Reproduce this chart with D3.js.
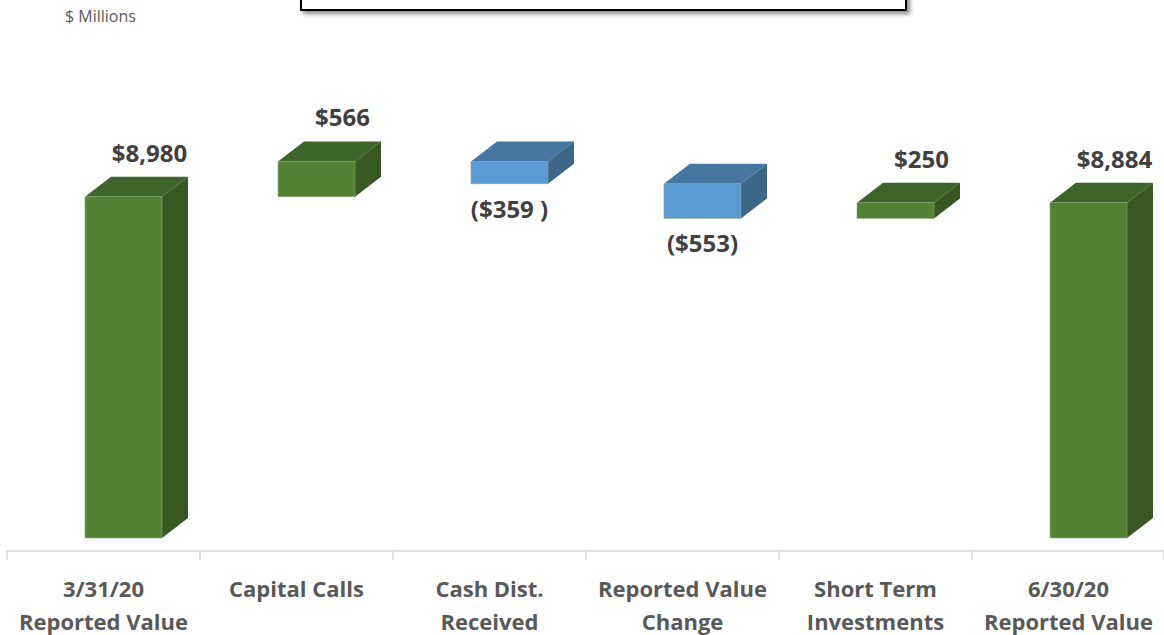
<!DOCTYPE html>
<html>
<head>
<meta charset="utf-8">
<script src="https://cdn.jsdelivr.net/npm/d3@7"></script>
<style>
  body { margin: 0; background: #fff; }
  svg { display: block; font-family: "Open Sans", sans-serif; }
</style>
</head>
<body>
<svg width="1164" height="635"></svg>
<script>
"use strict";

// waterfall data, $ millions
const categories = ["3/31/20|Reported Value", "Capital Calls", "Cash Dist.|Received",
  "Reported Value|Change", "Short Term|Investments", "6/30/20|Reported Value"];
const kinds = ["total", "delta", "delta", "delta", "delta", "total"];
const values = [8980, 566, -359, -553, 250, 8884];
const labels = ["$8,980", "$566", "($359 )", "($553)", "$250", "$8,884"];

window.addEventListener("load", drawChart);

function drawChart() {
  const svg = d3.select("svg");
  const base = 538;
  const depthX = 26, depthY = 20;
  const barW = 77;

  const x = d3.scaleBand().domain(categories).range([7, 1165]).padding(0);
  // axis does not start at zero in the original
  const y = d3.scaleLinear().domain([3520, 9600]).range([base, 158]);

  // running totals
  let run = 0;
  const bars = categories.map((c, i) => {
    let lo, hi;
    if (kinds[i] === "total") {
      lo = y.domain()[0]; hi = values[i]; run = values[i];
    } else {
      const next = run + values[i];
      lo = Math.min(run, next); hi = Math.max(run, next);
      run = next;
    }
    return { c, lo, hi, v: values[i], label: labels[i], kind: kinds[i] };
  });

  const colors = {
    pos: { front: "#548235", top: "#3f6429", side: "#385723" },
    neg: { front: "#5b9bd5", top: "#4676a2", side: "#3d6689" }
  };

  // title box, cut off at the top
  const defs = svg.append("defs");
  const f = defs.append("filter").attr("id", "shadow").attr("x", "-5%").attr("y", "-50%")
    .attr("width", "110%").attr("height", "200%");
  f.append("feDropShadow").attr("dx", 3).attr("dy", 3).attr("stdDeviation", 2)
    .attr("flood-color", "#000").attr("flood-opacity", 0.45);
  svg.append("rect")
    .attr("x", 301).attr("y", -40).attr("width", 605).attr("height", 50)
    .attr("fill", "#fff").attr("stroke", "#000").attr("stroke-width", 2)
    .attr("filter", "url(#shadow)");

  svg.append("text")
    .attr("x", 65).attr("y", 22)
    .style("font-size", "16px").style("fill", "#595959")
    .text("$ Millions");

  const g = svg.selectAll(".bar").data(bars).enter().append("g").attr("class", "bar");

  g.each(function (d) {
    const sel = d3.select(this);
    const col = d.kind === "delta" && d.v < 0 ? colors.neg : colors.pos;
    const x0 = x(d.c) + 78, x1 = x0 + barW;
    const yt = y(d.hi), yb = y(d.lo);
    sel.append("polygon")
      .attr("points", [[x0, yt], [x0 + depthX, yt - depthY], [x1 + depthX, yt - depthY], [x1, yt]].join(" "))
      .attr("fill", col.top);
    sel.append("polygon")
      .attr("points", [[x1, yt], [x1 + depthX, yt - depthY], [x1 + depthX, yb - depthY], [x1, yb]].join(" "))
      .attr("fill", col.side);
    sel.append("rect")
      .attr("x", x0).attr("y", yt).attr("width", barW).attr("height", yb - yt)
      .attr("fill", col.front).attr("stroke", "#8aa87a").attr("stroke-width", 0.6);

    const neg = d.v < 0;
    sel.append("text")
      .attr("x", neg ? x0 + barW / 2 : x0 + barW / 2 + depthX)
      .attr("y", neg ? yb + 34 : yt - depthY - 15)
      .attr("text-anchor", "middle")
      .style("font-size", "24px").style("font-weight", "bold").style("fill", "#404040")
      .text(d.label);
  });

  // category axis
  const axisY = 551;
  svg.append("line")
    .attr("x1", 7).attr("x2", 1164).attr("y1", axisY).attr("y2", axisY)
    .attr("stroke", "#d9d9d9").attr("stroke-width", 1.5);
  const ticks = categories.map((c) => x(c)).concat([x.range()[1] - 1]);
  svg.selectAll(".tick").data(ticks).enter().append("line")
    .attr("x1", (d) => d).attr("x2", (d) => d)
    .attr("y1", axisY).attr("y2", axisY + 9)
    .attr("stroke", "#d9d9d9").attr("stroke-width", 1.5);

  svg.selectAll(".cat").data(categories).enter().append("text")
    .attr("class", "cat")
    .attr("x", (d) => x(d) + x.bandwidth() / 2)
    .attr("y", 597)
    .attr("text-anchor", "middle")
    .style("font-size", "22px").style("font-weight", "bold").style("fill", "#595959")
    .each(function (d) {
      const parts = d.split("|");
      const t = d3.select(this);
      parts.forEach((p, i) => {
        t.append("tspan").attr("x", x(d) + x.bandwidth() / 2).attr("dy", i ? 33 : 0).text(p);
      });
    });
}
</script>
</body>
</html>
